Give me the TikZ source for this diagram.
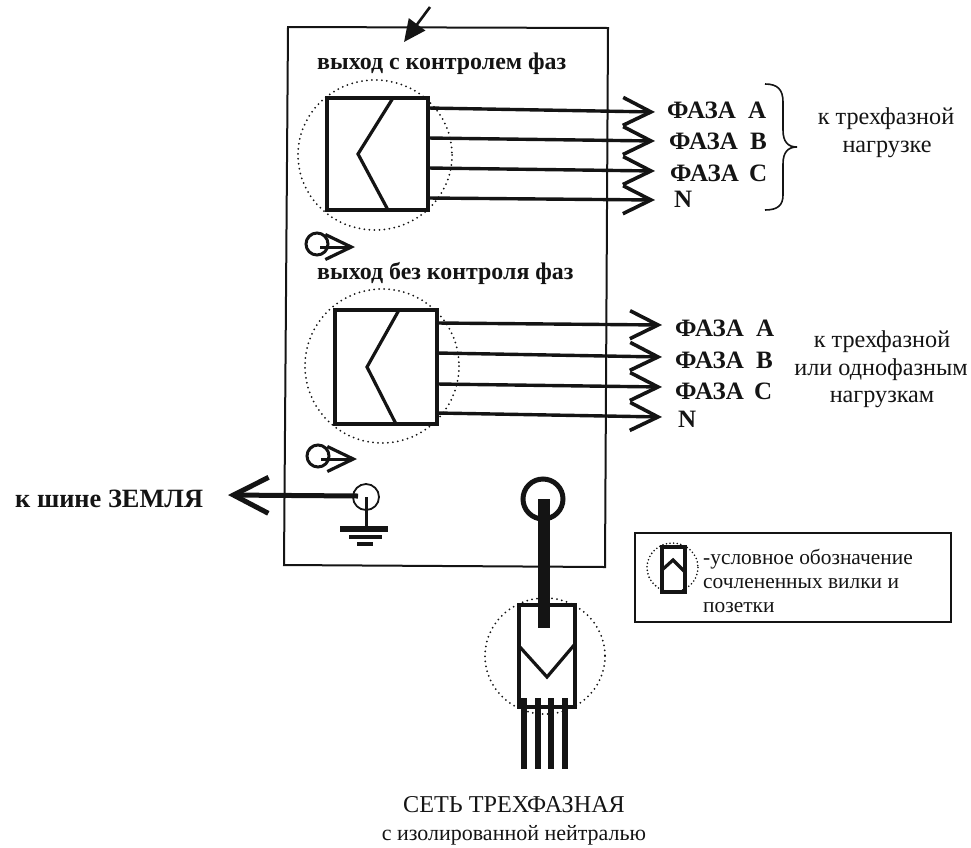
\documentclass[tikz,border=0pt]{standalone}
\usepackage{fontspec}
\setmainfont{Liberation Serif}
\usetikzlibrary{arrows.meta}
\definecolor{ink}{HTML}{141414}
\tikzset{
  wire/.style={line width=3.4pt,draw=ink,-{Straight Barb[length=28pt,width=28pt,line width=3.6pt]}},
  box/.style={draw=ink,line width=3.6pt,fill=none,inner sep=0pt,outer sep=0pt,minimum width=#1},
  chev/.style={draw=ink,line width=3.2pt,line join=miter},
  dots/.style={draw=ink,line width=2pt,line cap=round,dash pattern=on 0pt off 5pt},
  frameline/.style={draw=ink,line width=2pt},
  lab/.style={font=\fontsize{25}{27}\selectfont\bfseries,inner sep=0pt,anchor=base west,text=ink},
  sub/.style={font=\fontsize{23.9}{26}\selectfont\bfseries,inner sep=0pt,anchor=base west,text=ink},
  txt/.style={font=\fontsize{24.2}{27}\selectfont,inner sep=0pt,anchor=base,text=ink},
  leg/.style={font=\fontsize{21.4}{24}\selectfont,inner sep=0pt,anchor=base west,text=ink},
  eye/.style={draw=ink,line width=3pt,circle,minimum size=22pt,inner sep=0pt},
  smallwire/.style={line width=3pt,draw=ink,-{Straight Barb[length=26pt,width=25pt,line width=3.2pt]}},
}
\begin{document}
\begin{tikzpicture}[x=1pt,y=-1pt]
\useasboundingbox (0,0) rectangle (971,847);
% main frame
\draw[frameline] (288,27) -- (608,28) -- (605,567) -- (284,565) -- cycle;
% pointer
\coordinate (ptrS) at (430,7);
\coordinate (ptrE) at (404,42);
\draw[line width=2.6pt,draw=ink,-{Triangle[length=22pt,width=20pt,fill=ink]}] (ptrS) -- (ptrE);
% section titles
\node[sub] (t1) at (317,69) {выход с контролем фаз};
\node[sub] (t2) at (317,279) {выход без контроля фаз};
% upper connector
\draw[dots] (375,155) ellipse [x radius=77,y radius=75];
\node[box=101pt,minimum height=112pt] (u) at (377.5,154) {};
\draw[chev] (393,98) -- (358,154) -- (388,210);
\foreach \n/\ys/\ye in {a/108/112,b/138/141,c/168/171,d/198/200}{
  \coordinate (us\n) at (428,\ys);
  \coordinate (ue\n) at (655,\ye);
  \draw[wire] (us\n) -- (ue\n);
}
\node[lab] (ua) at (667,118) {ФАЗА\hspace{6pt} А};
\node[lab] (ub) at (669,149) {ФАЗА\hspace{6pt} В};
\node[lab] (uc) at (670,181) {ФАЗА\hspace{4pt} С};
\node[lab] (ud) at (674,207) {N};
% brace
\draw[draw=ink,line width=1.6pt] (765,84) .. controls (778,84) and (783,90) .. (783,102) -- (783,130) .. controls (783,142) and (788,147) .. (797,147) .. controls (788,147) and (783,152) .. (783,164) -- (783,195) .. controls (783,205) and (778,210) .. (765,210);
\node[txt] (l1) at (886,124) {к трехфазной};
\node[txt] (l2) at (887,152) {нагрузке};
% lower connector
\draw[dots] (382,366) circle [radius=77];
\node[box=102pt,minimum height=114pt] (m) at (386,367) {};
\draw[chev] (399,310) -- (367,367) -- (396,424);
\foreach \n/\ys/\ye in {a/323/325,b/353/357,c/384/387,d/413/417}{
  \coordinate (ms\n) at (437,\ys);
  \coordinate (me\n) at (662,\ye);
  \draw[wire] (ms\n) -- (me\n);
}
\node[lab] (ma) at (675,336) {ФАЗА\hspace{6pt} А};
\node[lab] (mb) at (675,368) {ФАЗА\hspace{6pt} В};
\node[lab] (mc) at (675,399) {ФАЗА\hspace{4pt} С};
\node[lab] (md) at (678,427) {N};
\node[txt] (r1) at (882,347) {к трехфазной};
\node[txt] (r2) at (881,375) {или однофазным};
\node[txt] (r3) at (882,402) {нагрузкам};
% small symbols
\node[eye] (e1) at (317,244) {};
\coordinate (e1t) at (355,247);
\draw[smallwire] (e1.center) ++(3,3) -- (e1t);
\node[eye] (e2) at (318,456) {};
\coordinate (e2t) at (357,459);
\draw[smallwire] (e2.center) ++(3,3) -- (e2t);
% ground
\node[draw=ink,line width=1.8pt,circle,minimum size=26pt,inner sep=0pt] (g) at (366,497) {};
\coordinate (gt) at (228,495);
\draw[line width=5pt,draw=ink,-{Straight Barb[length=35pt,width=36pt,line width=5pt]}] (g.center) ++(-8,-1) -- (gt);
\node[inner sep=0pt,anchor=base west,text=ink,font=\fontsize{26.4}{29}\selectfont\bfseries] (gl) at (15,507) {к шине ЗЕМЛЯ};
\coordinate (gb) at (366,529);
\draw[line width=3pt,draw=ink] (g.center) -- (gb);
\draw[line width=6pt,draw=ink] (340,529) -- (388,529);
\draw[line width=3.4pt,draw=ink] (349,537) -- (382,537);
\draw[line width=3.2pt,draw=ink] (357,544) -- (373,544);
% mains socket
\node[draw=ink,line width=5pt,circle,minimum size=40pt,inner sep=0pt] (s) at (543,499) {};
\draw[dots] (545,656) ellipse [x radius=60,y radius=58];
\node[box=56pt,minimum height=102pt] (p) at (547,656) {};
\draw[chev] (519,646) -- (547,677) -- (575,644);
\coordinate (pe) at (544,628);
\draw[line width=12pt,draw=ink] (s.center) ++(1,0) -- (pe);
\foreach \n/\x in {a/524,b/538,c/551,d/565}{
  \coordinate (w\n s) at (\x,698);
  \coordinate (w\n e) at (\x,769);
  \draw[line width=6pt,draw=ink] (w\n s) -- (w\n e);
}
\node[txt] (n1) at (514,812) {СЕТЬ ТРЕХФАЗНАЯ};
\node[txt,font=\fontsize{22}{25}\selectfont] (n2) at (514,840) {с изолированной нейтралью};
% legend
\draw[frameline] (635,533) rectangle (951,622);
\draw[dots,line width=1.8pt,dash pattern=on 0pt off 3.6pt] (672.5,567.5) ellipse [x radius=25.5,y radius=24.5];
\node[box=23pt,minimum height=45pt] (lg) at (673.5,569.5) {};
\draw[chev] (662,570) -- (673,560) -- (685,572);
\node[leg] (g1) at (703,564) {-условное обозначение};
\node[leg] (g2) at (703,588) {сочлененных вилки и};
\node[leg] (g3) at (703,612) {позетки};
\end{tikzpicture}
\end{document}
